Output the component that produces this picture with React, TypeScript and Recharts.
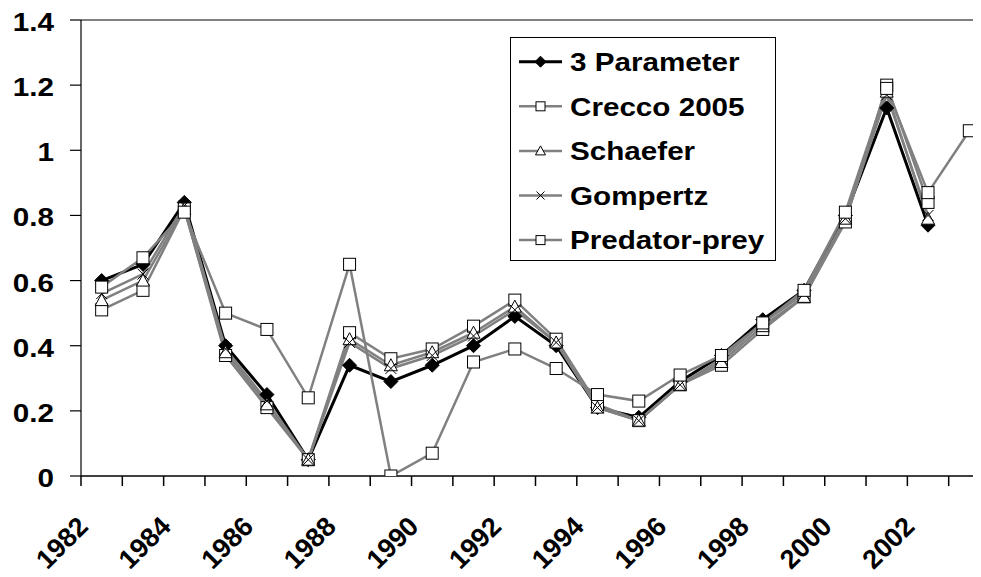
import React from 'react';
import { LineChart, Line, XAxis, YAxis, Legend, ReferenceLine } from 'recharts';

const years = ['1982','1983','1984','1985','1986','1987','1988','1989','1990','1991','1992','1993','1994','1995','1996','1997','1998','1999','2000','2001','2002','2003'];
const threeParameter = [0.60,0.65,0.84,0.40,0.25,0.05,0.34,0.29,0.34,0.40,0.49,0.40,0.21,0.18,0.29,0.37,0.48,0.57,0.80,1.13,0.77,null];
const crecco2005 = [0.51,0.57,0.82,0.37,0.21,0.05,0.44,0.36,0.39,0.46,0.54,0.42,0.22,0.17,0.28,0.34,0.45,0.55,0.78,1.20,0.84,null];
const schaefer = [0.54,0.60,0.82,0.38,0.22,0.05,0.42,0.34,0.38,0.44,0.52,0.41,0.21,0.17,0.28,0.35,0.46,0.55,0.79,1.18,0.79,null];
const gompertz = [0.56,0.62,0.83,0.39,0.23,0.05,0.41,0.33,0.37,0.43,0.51,0.41,0.21,0.17,0.28,0.36,0.47,0.56,0.79,1.17,0.80,null];
const predatorPrey = [0.58,0.67,0.81,0.50,0.45,0.24,0.65,0.00,0.07,0.35,0.39,0.33,0.25,0.23,0.31,0.37,0.47,0.57,0.81,1.19,0.87,1.06];
const yTicks = [0, 0.2, 0.4, 0.6, 0.8, 1, 1.2, 1.4];

const seriesDefs = [
  { key: 'p3', name: '3 Parameter', values: threeParameter, marker: 'diamond', color: '#000000', width: 3 },
  { key: 'crecco', name: 'Crecco 2005', values: crecco2005, marker: 'square', color: '#808080', width: 2.5 },
  { key: 'schaefer', name: 'Schaefer', values: schaefer, marker: 'triangle', color: '#808080', width: 2.5 },
  { key: 'gompertz', name: 'Gompertz', values: gompertz, marker: 'x', color: '#808080', width: 2.5 },
  { key: 'pp', name: 'Predator-prey', values: predatorPrey, marker: 'square', color: '#808080', width: 2.5 },
];

const data = years.map((y, i) => {
  const row: any = { year: y };
  seriesDefs.forEach((s) => { row[s.key] = s.values[i]; });
  return row;
});

const FONT = "'Liberation Sans', Arial, sans-serif";
const FS = 26;
const SX = 1.14;
const X_FS = 27;
const CHART_W = 1000;
const CHART_H = 569;
const MARGIN = { top: 12, right: 18, left: 0, bottom: 0 };
const Y_W = 73;
const X_H = 101;
const BAND = (CHART_W - MARGIN.right - MARGIN.left - Y_W) / years.length;

function marker(kind: string, cx: number, cy: number, k: string, r = 6.5) {
  if (kind === 'diamond') {
    const d = r + 0.5;
    return <polygon key={k} points={`${cx},${cy - d} ${cx + d},${cy} ${cx},${cy + d} ${cx - d},${cy}`} fill="#000" stroke="#000" strokeWidth={1} />;
  }
  if (kind === 'square') {
    return <rect key={k} x={cx - r + 0.5} y={cy - r + 0.5} width={2 * r - 1} height={2 * r - 1} fill="#fff" stroke="#000" strokeWidth={1} />;
  }
  if (kind === 'triangle') {
    return <polygon key={k} points={`${cx},${cy - r} ${cx + r},${cy + r - 1} ${cx - r},${cy + r - 1}`} fill="#fff" stroke="#000" strokeWidth={1} />;
  }
  return (
    <g key={k}>
      <line x1={cx - r + 1} y1={cy - r + 1} x2={cx + r - 1} y2={cy + r - 1} stroke="#000" strokeWidth={1} />
      <line x1={cx - r + 1} y1={cy + r - 1} x2={cx + r - 1} y2={cy - r + 1} stroke="#000" strokeWidth={1} />
    </g>
  );
}

const makeDot = (kind: string, sk: string) => (p: any) => {
  const k = `${sk}-${p.index}`;
  if (p.cx == null || p.cy == null || p.value == null || (Array.isArray(p.value) && p.value[1] == null)) return <g key={k} />;
  return marker(kind, p.cx, p.cy, k);
};

const YTick = (props: any) => {
  const X = Number(props.x);
  const Y = Number(props.y);
  return (
    <g transform={`translate(${X},${Y}) scale(${SX},1)`}>
      <text x={0} y={11} textAnchor="end" fontFamily={FONT} fontWeight="bold" fontSize={FS} fill="#000">
        {String(props.payload.value)}
      </text>
    </g>
  );
};

const XTick = (props: any) => {
  const X = Number(props.x);
  const Y = Number(props.y);
  const idx = Number(props.index);
  return (
    <g transform={`translate(${X},${Y})`}>
      <line x1={-BAND / 2} y1={0} x2={-BAND / 2} y2={10} stroke="#000" strokeWidth={1.5} />
      {idx % 2 === 0 ? (
        <g transform="translate(-12,52) rotate(-45)">
          <text x={0} y={0} textAnchor="end" fontFamily={FONT} fontWeight="bold" fontSize={X_FS} fill="#000">
            {props.payload.value}
          </text>
        </g>
      ) : null}
    </g>
  );
};

const LegendBox = () => (
  <svg width={267} height={225} style={{ display: 'block' }}>
    <rect x={0.5} y={0.5} width={265} height={223} fill="#fff" stroke="#000" strokeWidth={1} />
    {seriesDefs.map((s, i) => {
      const cy = 24.7 + i * 44.6;
      return (
        <g key={s.key}>
          <line x1={9} y1={cy} x2={52} y2={cy} stroke={s.color} strokeWidth={s.width} />
          {marker(s.marker, 30.5, cy, `lg-${s.key}`, 5)}
          <g transform={`translate(60,${cy + 9.3}) scale(${SX},1)`}>
            <text x={0} y={0} fontFamily={FONT} fontWeight="bold" fontSize={FS} fill="#000">{s.name}</text>
          </g>
        </g>
      );
    })}
  </svg>
);

export default function App() {
  return (
    <div style={{ width: 973, height: CHART_H, overflow: 'hidden', background: '#fff' }}>
      <LineChart width={CHART_W} height={CHART_H} data={data} margin={MARGIN}>
        <XAxis
          dataKey="year"
          interval={0}
          padding={{ left: BAND / 2, right: BAND / 2 }}
          tickLine={false}
          tickSize={0}
          tickMargin={0}
          height={X_H}
          axisLine={{ stroke: '#000', strokeWidth: 1.5 }}
          tick={<XTick />}
        />
        <YAxis
          domain={[0, 1.4]}
          ticks={yTicks}
          width={Y_W}
          tickSize={11}
          tickMargin={16}
          axisLine={{ stroke: '#000', strokeWidth: 1.2 }}
          tickLine={{ stroke: '#000', strokeWidth: 1.2 }}
          tick={<YTick />}
          allowDataOverflow
        />
        <ReferenceLine y={1.4} stroke="#808080" strokeWidth={2} />
        <Legend
          layout="vertical"
          align="center"
          verticalAlign="middle"
          content={() => <LegendBox />}
          wrapperStyle={{ left: 502, top: 29, width: 267, height: 225 }}
        />
        {seriesDefs.map((s) => (
          <Line
            key={s.key}
            type="linear"
            dataKey={s.key}
            name={s.name}
            stroke={s.color}
            strokeWidth={s.width}
            dot={makeDot(s.marker, s.key)}
            activeDot={false}
            isAnimationActive={false}
          />
        ))}
      </LineChart>
    </div>
  );
}
